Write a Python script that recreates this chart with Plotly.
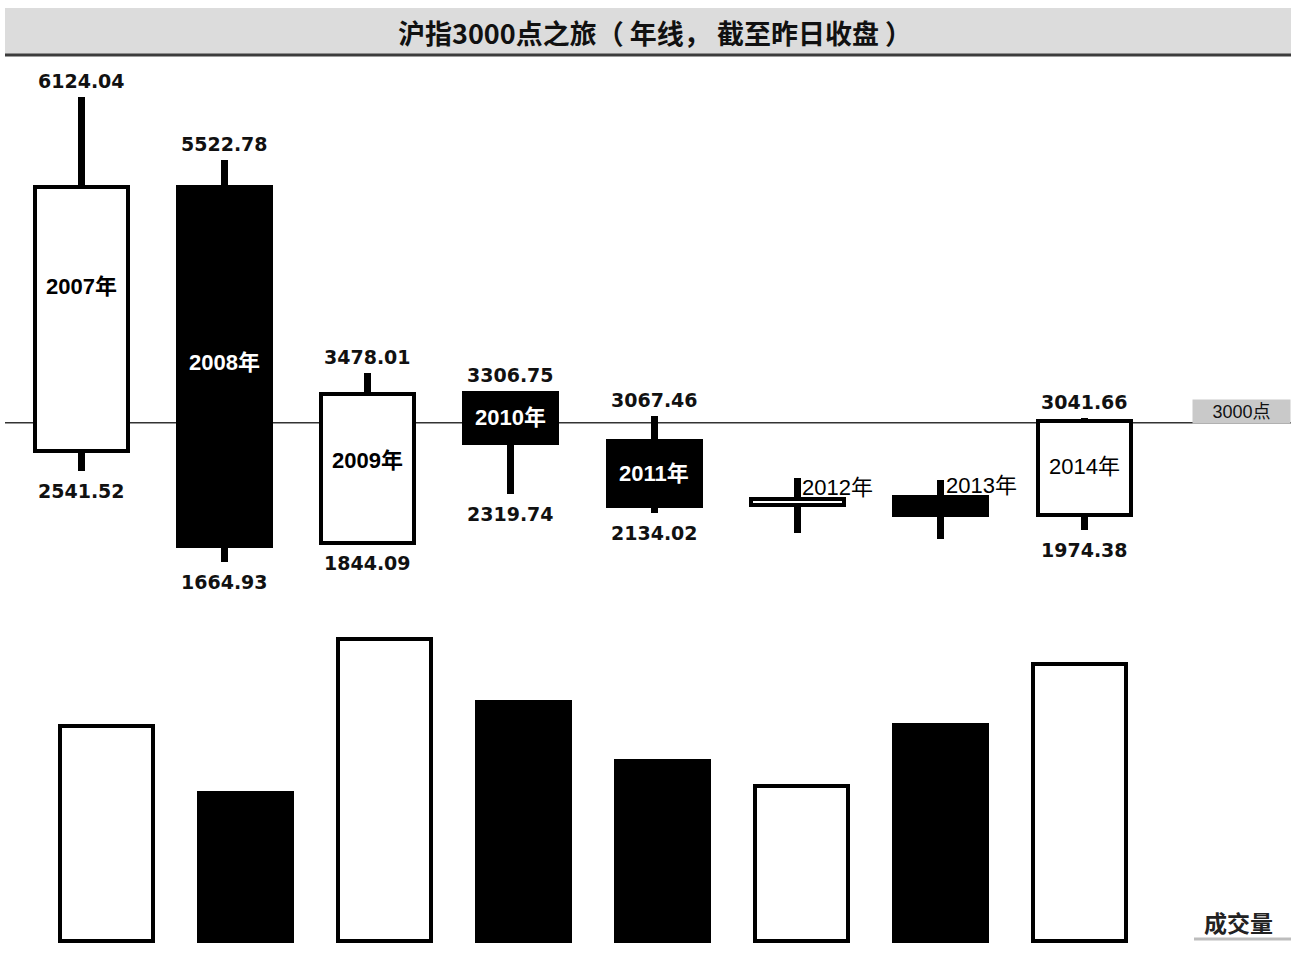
import plotly.graph_objects as go

# ---- data -------------------------------------------------------------
years = [2007, 2008, 2009, 2010, 2011, 2012, 2013, 2014]
year_labels = ["2007年", "2008年", "2009年", "2010年", "2011年", "2012年", "2013年", "2014年"]
opens = [2728.19, 5265.00, 1849.02, 3289.75, 2825.33, 2212.00, 2289.51, 2112.13]
closes = [5261.56, 1820.81, 3277.14, 2808.08, 2199.42, 2269.13, 2115.98, 3020.26]
highs = [6124.04, 5522.78, 3478.01, 3306.75, 3067.46, 2470.00, 2450.00, 3041.66]
lows = [2541.52, 1664.93, 1844.09, 2319.74, 2134.02, 1945.00, 1890.00, 1974.38]
labelled_extremes = [True, True, True, True, True, False, False, True]
volumes = [215, 148, 302, 239, 180, 155, 216, 277]   # relative turnover

# ---- geometry ---------------------------------------------------------
W, H = 1291, 954


def fy(px):
    return 1 - px / H


CANDLE_X0, CANDLE_STEP = 81, 143.29
PRICE_REF, PRICE_REF_PX, PX_PER_PT = 6124.04, 97, 0.10428
PRICE_TOP_PX, PRICE_BOT_PX = 60, 600
price_range = [PRICE_REF - (PRICE_BOT_PX - PRICE_REF_PX) / PX_PER_PT,
               PRICE_REF + (PRICE_REF_PX - PRICE_TOP_PX) / PX_PER_PT]
candle_xrange = [-CANDLE_X0 / CANDLE_STEP, (W - CANDLE_X0) / CANDLE_STEP]

VOL_X0, VOL_STEP = 106.5, 138.93
VOL_ZERO_PX, VOL_TOP_PX = 941, 600
vol_range = [-(H - VOL_ZERO_PX), VOL_ZERO_PX - VOL_TOP_PX]
vol_xrange = [-VOL_X0 / VOL_STEP, (W - VOL_X0) / VOL_STEP]

idx = list(range(len(years)))
rising = [c >= o for o, c in zip(opens, closes)]
fill = ["white" if r else "black" for r in rising]

VALUE_FONT = dict(family="DejaVu Sans, Noto Sans CJK SC", size=19, color="#111111", weight="bold")
YEAR_FONT = "Liberation Sans, Arial, Noto Sans CJK SC"

fig = go.Figure()

# wicks
fig.add_trace(go.Bar(
    x=idx, y=[h - l for h, l in zip(highs, lows)], base=lows,
    width=7 / CANDLE_STEP, marker=dict(color="black", line=dict(width=0)),
    hoverinfo="skip", showlegend=False))

# bodies (hollow = rising year, solid = falling year)
fig.add_trace(go.Bar(
    x=idx, y=[abs(c - o) for o, c in zip(opens, closes)],
    base=[min(o, c) for o, c in zip(opens, closes)],
    width=93 / CANDLE_STEP,
    marker=dict(color=fill, line=dict(color="black", width=4)),
    hoverinfo="skip", showlegend=False))

# turnover bars
fig.add_trace(go.Bar(
    x=idx, y=volumes, xaxis="x2", yaxis="y2",
    width=93 / VOL_STEP,
    marker=dict(color=fill, line=dict(color="black", width=4)),
    hoverinfo="skip", showlegend=False))

annotations = []

# high / low value labels
for i in idx:
    if not labelled_extremes[i]:
        continue
    annotations.append(dict(x=i, y=highs[i], xref="x", yref="y", text=f"{highs[i]:.2f}",
                            showarrow=False, xanchor="center", yanchor="bottom", yshift=3,
                            font=VALUE_FONT))
    annotations.append(dict(x=i, y=lows[i], xref="x", yref="y", text=f"{lows[i]:.2f}",
                            showarrow=False, xanchor="center", yanchor="top", yshift=-7,
                            font=VALUE_FONT))

# year labels
label_shift = [33, 4, 8, 0, 0, 0, 0, 2]
beside_wick = [False, False, False, False, False, True, True, False]
bold_year = [True, True, True, True, True, False, False, False]
for i in idx:
    o, c = opens[i], closes[i]
    font = dict(family=YEAR_FONT, size=22,
                color="black" if rising[i] or beside_wick[i] else "white",
                weight="bold" if bold_year[i] else "normal")
    if beside_wick[i]:
        annotations.append(dict(x=i, y=max(o, c), xref="x", yref="y", text=year_labels[i],
                                showarrow=False, xanchor="left", yanchor="bottom",
                                xshift=3, yshift=-3, font=font))
    else:
        annotations.append(dict(x=i, y=(o + c) / 2, xref="x", yref="y", text=year_labels[i],
                                showarrow=False, xanchor="center", yanchor="middle",
                                yshift=label_shift[i], font=font))

# 3000-point tag
annotations.append(dict(x=1, y=3000, xref="paper", yref="y", text="3000点", showarrow=False,
                        xanchor="right", yanchor="bottom", yshift=-1,
                        width=93, height=19, borderpad=2, bgcolor="#c9c9c9",
                        font=dict(family=YEAR_FONT, size=18, color="#111111")))

# title
annotations.append(dict(x=655 / W, y=fy(32), xref="paper", yref="paper",
                        xanchor="center", yanchor="middle",
                        text="沪指3000点之旅（ 年线， 截至昨日收盘 ）", showarrow=False,
                        font=dict(family="Noto Sans CJK SC", size=27, color="#111111", weight="bold")))

# turnover caption
annotations.append(dict(x=1238 / W, y=fy(922), xref="paper", yref="paper", text="成交量",
                        xanchor="center", yanchor="middle", showarrow=False,
                        font=dict(family="Noto Sans CJK SC", size=23, color="#222222", weight="bold")))

shapes = [
    # title band
    dict(type="rect", xref="paper", yref="paper", x0=5 / W, x1=1, y0=fy(55), y1=fy(8),
         fillcolor="#dcdcdc", line=dict(width=0), layer="below"),
    dict(type="line", xref="paper", yref="paper", x0=5 / W, x1=1, y0=fy(55), y1=fy(55),
         line=dict(color="#3c3c3c", width=3)),
    # 3000-point reference line
    dict(type="line", xref="paper", yref="y", x0=5 / W, x1=1, y0=3000, y1=3000,
         line=dict(color="#333333", width=1.5), layer="below"),
    # caption underline
    dict(type="line", xref="paper", yref="paper", x0=1194 / W, x1=1, y0=fy(939), y1=fy(939),
         line=dict(color="#bdbdbd", width=3)),
]

hidden = dict(visible=False, showgrid=False, zeroline=False, fixedrange=True)

fig.update_layout(
    width=W, height=H,
    margin=dict(l=0, r=0, t=0, b=0),
    paper_bgcolor="white", plot_bgcolor="rgba(0,0,0,0)",
    barmode="overlay", bargap=0,
    showlegend=False,
    xaxis=dict(domain=[0, 1], range=candle_xrange, anchor="y", **hidden),
    yaxis=dict(domain=[fy(PRICE_BOT_PX), fy(PRICE_TOP_PX)], range=price_range, anchor="x", **hidden),
    xaxis2=dict(domain=[0, 1], range=vol_xrange, anchor="y2", **hidden),
    yaxis2=dict(domain=[0, fy(VOL_TOP_PX)], range=vol_range, anchor="x2", **hidden),
    annotations=annotations,
    shapes=shapes,
)

fig.write_html("out.html")
